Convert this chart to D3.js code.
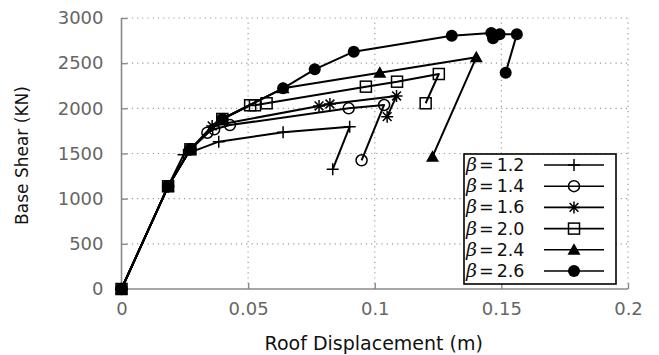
<!DOCTYPE html>
<html><head><meta charset="utf-8">
<script src="https://cdn.jsdelivr.net/npm/d3@7"></script>
<style>body{margin:0;background:#fff}svg{display:block}</style>
</head><body>
<svg id="c" width="659" height="355"></svg>
<script>
// ---- data ----
const seriesNames = ["1.2","1.4","1.6","2.0","2.4","2.6"];
const markerTypes = ["plus","circle","star","square","triangle","dot"];
const dispB12 = [0, 0.0184, 0.0245, 0.0384, 0.0638, 0.0901, 0.0834];
const shearB12 = [0, 1137, 1485, 1631, 1735, 1797, 1325];
const dispB14 = [0, 0.0184, 0.0272, 0.0339, 0.0366, 0.0428, 0.0897, 0.1037, 0.0948];
const shearB14 = [0, 1137, 1546, 1730, 1768, 1815, 2000, 2037, 1425];
const dispB16 = [0, 0.0184, 0.0272, 0.0358, 0.0780, 0.0823, 0.1086, 0.1049];
const shearB16 = [0, 1137, 1546, 1805, 2026, 2048, 2137, 1908];
const dispB20 = [0, 0.0184, 0.0272, 0.0398, 0.0508, 0.0527, 0.0573, 0.0965, 0.1088, 0.1253, 0.1201];
const shearB20 = [0, 1137, 1546, 1882, 2034, 2034, 2056, 2240, 2295, 2380, 2056];
const dispB24 = [0, 0.0184, 0.0272, 0.0398, 0.0638, 0.1020, 0.1401, 0.1228];
const shearB24 = [0, 1137, 1546, 1882, 2222, 2395, 2565, 1465];
const dispB26 = [0, 0.0184, 0.0272, 0.0398, 0.0638, 0.0763, 0.0917, 0.1304, 0.1460, 0.1467, 0.1493, 0.1561, 0.1517];
const shearB26 = [0, 1137, 1546, 1882, 2222, 2432, 2627, 2804, 2835, 2775, 2819, 2819, 2395];
const xTickValues = [0, 0.05, 0.1, 0.15, 0.2];
const xTickLabels = ["0", "0.05", "0.1", "0.15", "0.2"];
const yTickValues = [0, 500, 1000, 1500, 2000, 2500, 3000];
const yTickLabels = ["0", "500", "1000", "1500", "2000", "2500", "3000"];
const xTitle = "Roof Displacement (m)";
const yTitle = "Base Shear (KN)";

const allDisp = [dispB12, dispB14, dispB16, dispB20, dispB24, dispB26];
const allShear = [shearB12, shearB14, shearB16, shearB20, shearB24, shearB26];
const series = seriesNames.map((n, i) => ({
  name: n, marker: markerTypes[i],
  pts: allDisp[i].map((d, j) => [d, allShear[i][j]])
}));

// ---- layout ----
const L = 121.5, R = 628, T = 18, B = 289;
const x = d3.scaleLinear().domain([0, 0.2]).range([L, R]);
const y = d3.scaleLinear().domain([0, 3000]).range([B, T]);
const svg = d3.select("#c");
const FONT = "'DejaVu Sans', Verdana, sans-serif";

// grid
const grid = svg.append("g").attr("stroke", "#9a9a9a").attr("stroke-width", 1.2)
  .attr("stroke-dasharray", "1.2,4");
grid.selectAll(".gx").data(xTickValues.slice(1)).join("line")
  .attr("x1", d => x(d)).attr("x2", d => x(d)).attr("y1", B).attr("y2", T);
grid.selectAll(".gy").data(yTickValues.slice(1)).join("line")
  .attr("x1", L).attr("x2", R).attr("y1", d => y(d)).attr("y2", d => y(d));

// axes
const xAxis = d3.axisBottom(x).tickValues(xTickValues).tickSize(-6).tickPadding(13)
  .tickFormat((d, i) => xTickLabels[i]);
const yAxis = d3.axisLeft(y).tickValues(yTickValues).tickSize(-6).tickPadding(18)
  .tickFormat((d, i) => yTickLabels[i]);
function styleAxis(g) {
  g.select(".domain").attr("stroke", "#8a8a8a").attr("stroke-width", 1.6);
  g.selectAll(".tick line").attr("stroke", "#8a8a8a").attr("stroke-width", 1.4);
  g.selectAll(".tick text").attr("fill", "#666").attr("font-size", 18).attr("font-family", FONT);
}
svg.append("g").attr("transform", `translate(0,${B})`).call(xAxis).call(styleAxis)
  .call(g => g.select(".domain").attr("d", `M${L},0H${R}`));
svg.append("g").attr("transform", `translate(${L},0)`).call(yAxis).call(styleAxis)
  .call(g => g.select(".domain").attr("d", `M0,${B}V${T}`));

// titles
svg.append("text").attr("x", (L + R) / 2 - 1).attr("y", 350).attr("text-anchor", "middle")
  .attr("font-family", FONT).attr("font-size", 19).attr("fill", "#111").text(xTitle);
svg.append("text").attr("transform", `translate(28,${(T + B) / 2 + 2}) rotate(-90)`)
  .attr("text-anchor", "middle").attr("font-family", FONT).attr("font-size", 17)
  .attr("fill", "#111").text(yTitle);

// markers
function drawMarker(g, type, cx, cy) {
  const s = "#000", w = 1.5;
  if (type === "plus") {
    g.append("path").attr("d", `M${cx-6},${cy}H${cx+6}M${cx},${cy-6}V${cy+6}`)
      .attr("stroke", s).attr("stroke-width", w).attr("fill", "none");
  } else if (type === "circle") {
    g.append("circle").attr("cx", cx).attr("cy", cy).attr("r", 5.5)
      .attr("stroke", s).attr("stroke-width", w).attr("fill", "none");
  } else if (type === "star") {
    const a = 6, b = 4.4;
    g.append("path").attr("d", `M${cx-a},${cy}H${cx+a}M${cx},${cy-a}V${cy+a}M${cx-b},${cy-b}L${cx+b},${cy+b}M${cx-b},${cy+b}L${cx+b},${cy-b}`)
      .attr("stroke", s).attr("stroke-width", w).attr("fill", "none");
  } else if (type === "square") {
    g.append("rect").attr("x", cx - 5.5).attr("y", cy - 5.5).attr("width", 11).attr("height", 11)
      .attr("stroke", s).attr("stroke-width", w).attr("fill", "none");
  } else if (type === "triangle") {
    g.append("path").attr("d", `M${cx},${cy-6.5}L${cx+6.5},${cy+5}L${cx-6.5},${cy+5}Z`)
      .attr("fill", s);
  } else if (type === "dot") {
    g.append("circle").attr("cx", cx).attr("cy", cy).attr("r", 6).attr("fill", s);
  }
}

const line = d3.line().x(d => x(d[0])).y(d => y(d[1]));
const plot = svg.append("g");
series.forEach(s => {
  plot.append("path").datum(s.pts).attr("d", line).attr("fill", "none")
    .attr("stroke", "#000").attr("stroke-width", 2).attr("stroke-linejoin", "round");
});
series.forEach(s => {
  const g = plot.append("g");
  s.pts.forEach(p => drawMarker(g, s.marker, x(p[0]), y(p[1])));
});

// legend
const lg = svg.append("g");
lg.append("rect").attr("x", 464).attr("y", 154).attr("width", 152).attr("height", 130)
  .attr("fill", "#fff").attr("stroke", "#000").attr("stroke-width", 1.6);
series.forEach((s, i) => {
  const cy = 165 + i * 21.2;
  const t = lg.append("text").attr("x", 466).attr("y", cy + 6).attr("font-size", 17.5)
    .attr("font-family", FONT).attr("fill", "#111");
  t.append("tspan").attr("font-family", "'DejaVu Serif', serif").attr("font-style", "italic")
    .attr("font-size", 19).text("β");
  t.append("tspan").attr("dx", 2).text("=" );
  t.append("tspan").attr("dx", 3).text(s.name);
  lg.append("line").attr("x1", 544).attr("x2", 604).attr("y1", cy).attr("y2", cy)
    .attr("stroke", "#000").attr("stroke-width", 1.6);
  const mg = lg.append("g");
  drawMarker(mg, s.marker, 574, cy);
});
</script>
</body></html>
